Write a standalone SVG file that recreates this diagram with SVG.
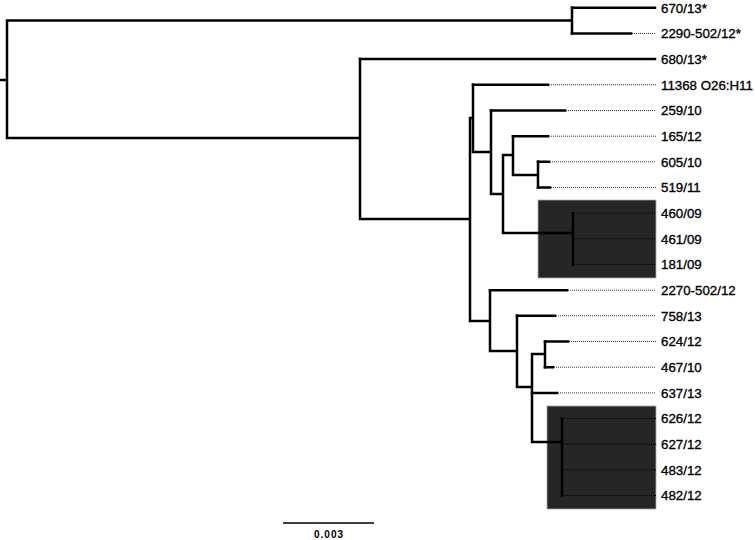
<svg xmlns="http://www.w3.org/2000/svg" width="755" height="540" viewBox="0 0 755 540">
<style>
.br{fill:none;stroke:#000;stroke-width:2.5;stroke-linecap:square}
.dot{fill:none;stroke:#333;stroke-width:1;stroke-dasharray:1 1}
.dotb{fill:none;stroke:#000;stroke-width:1;stroke-dasharray:1 1}
.lbl{font-family:"Liberation Sans",Arial,Helvetica,sans-serif;font-size:13.3px;fill:#000;stroke:#000;stroke-width:0.35}
.box{fill:#262626;stroke:#aaa;stroke-width:0.8}
.sc{font-family:"Liberation Sans",Arial,Helvetica,sans-serif;font-size:10px;font-weight:bold;letter-spacing:1px;fill:#000}
</style>
<rect width="755" height="540" fill="#fff"/>
<g id="clade-box-1"><rect class="box" x="538" y="200" width="118" height="78"/></g>
<g id="clade-box-2"><rect class="box" x="547" y="406" width="109" height="103"/></g>
<g id="connectors">
<path class="br" d="M0 80H7M7 20.5V138M7 20.5H572M572 7.8V33.5M7 138H360M360 59.1V219M360 219H470M470 118V321M470 118H473M473 84.8V152M473 152H491M491 110.5V194M491 194H503M503 155V233M503 155H513M513 136.2V175M513 175H538M538 161.8V187.5M503 233H573M573 213.2V264.5M470 321H490M490 290.2V351M490 351H517M517 315.8V387M517 387H532M532 354V442M532 354H545M545 341.5V367.2M532 442H562M562 418.5V495.5"/>
<path class="br" d="M572 7.8H655M572 33.5H631M360 59.1H655M473 84.8H548M491 110.5H565M513 136.2H548M538 161.8H549M538 187.5H550M490 290.2H567M517 315.8H555M545 341.5H568M545 367.2H553M532 392.9H557"/>
</g>
<g id="n-670-13"><text class="lbl" x="661" y="12.5">670/13*</text></g>
<g id="n-2290-502-12s"><path class="dot" d="M632 33.5H656"/><text class="lbl" x="661" y="38.2">2290-502/12*</text></g>
<g id="n-680-13"><text class="lbl" x="661" y="63.8">680/13*</text></g>
<g id="n-11368"><path class="dot" d="M549 84.8H656"/><text class="lbl" x="661" y="89.5">11368 O26:H11</text></g>
<g id="n-259-10"><path class="dot" d="M566 110.5H656"/><text class="lbl" x="661" y="115.2">259/10</text></g>
<g id="n-165-12"><path class="dot" d="M549 136.2H656"/><text class="lbl" x="661" y="140.9">165/12</text></g>
<g id="n-605-10"><path class="dot" d="M550 161.8H656"/><text class="lbl" x="661" y="166.5">605/10</text></g>
<g id="n-519-11"><path class="dot" d="M551 187.5H656"/><text class="lbl" x="661" y="192.2">519/11</text></g>
<g id="n-460-09"><path class="dotb" d="M574 213.2H656"/><text class="lbl" x="661" y="217.9">460/09</text></g>
<g id="n-461-09"><path class="dotb" d="M574 238.8H656"/><text class="lbl" x="661" y="243.5">461/09</text></g>
<g id="n-181-09"><path class="dotb" d="M574 264.5H656"/><text class="lbl" x="661" y="269.2">181/09</text></g>
<g id="n-2270-502-12"><path class="dot" d="M568 290.2H656"/><text class="lbl" x="661" y="294.9">2270-502/12</text></g>
<g id="n-758-13"><path class="dot" d="M556 315.8H656"/><text class="lbl" x="661" y="320.5">758/13</text></g>
<g id="n-624-12"><path class="dot" d="M569 341.5H656"/><text class="lbl" x="661" y="346.2">624/12</text></g>
<g id="n-467-10"><path class="dot" d="M554 367.2H656"/><text class="lbl" x="661" y="371.9">467/10</text></g>
<g id="n-637-13"><path class="dot" d="M558 392.9H656"/><text class="lbl" x="661" y="397.6">637/13</text></g>
<g id="n-626-12"><path class="dotb" d="M563 418.5H656"/><text class="lbl" x="661" y="423.2">626/12</text></g>
<g id="n-627-12"><path class="dotb" d="M563 444.2H656"/><text class="lbl" x="661" y="448.9">627/12</text></g>
<g id="n-483-12"><path class="dotb" d="M563 469.9H656"/><text class="lbl" x="661" y="474.6">483/12</text></g>
<g id="n-482-12"><path class="dotb" d="M563 495.5H656"/><text class="lbl" x="661" y="500.2">482/12</text></g>
<g id="scale-bar"><path d="M283 523H374" stroke="#000" stroke-width="1.5" fill="none"/><text class="sc" x="329" y="537.5" text-anchor="middle">0.003</text></g>
</svg>
